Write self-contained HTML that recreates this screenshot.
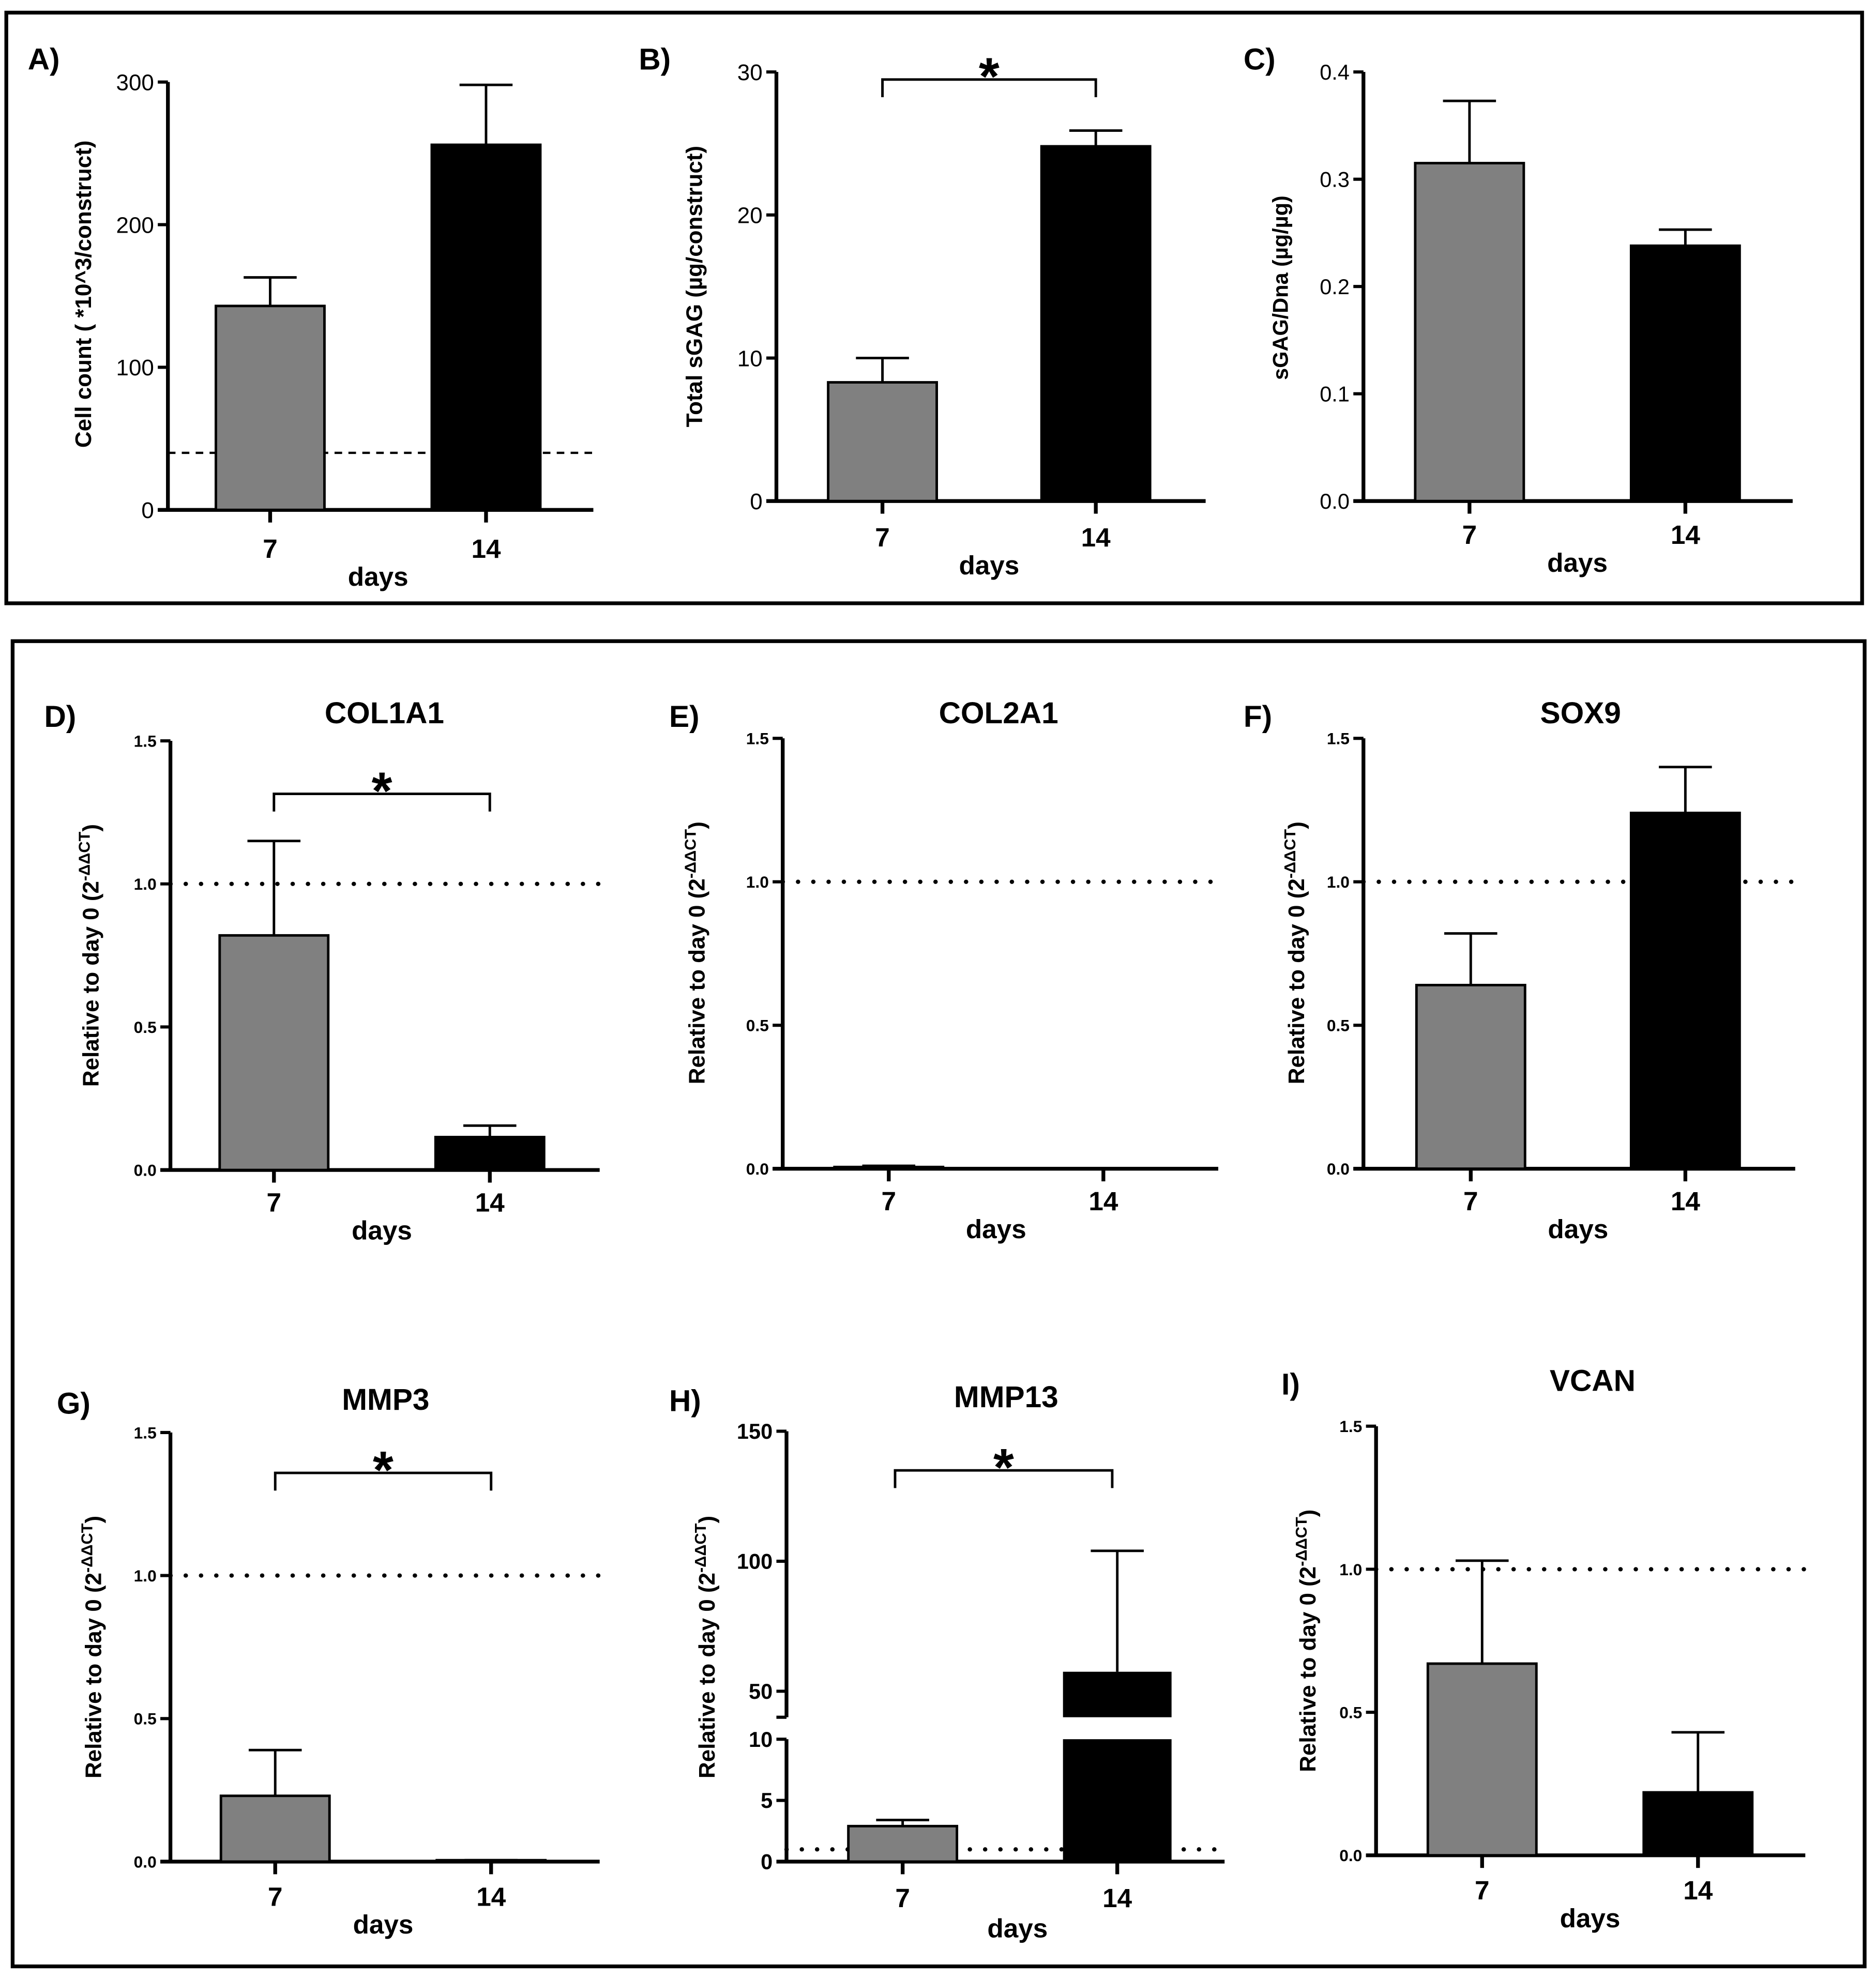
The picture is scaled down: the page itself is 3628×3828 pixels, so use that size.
<!DOCTYPE html>
<html><head><meta charset="utf-8"><style>html,body{margin:0;padding:0;background:#fff}svg{display:block}text{font-family:"Liberation Sans",Arial,sans-serif}</style></head>
<body>
<svg id="fig" xmlns="http://www.w3.org/2000/svg" width="3628" height="3828" viewBox="0 0 1486 1568" preserveAspectRatio="none">
<rect x="5" y="10" width="1470" height="468" fill="none" stroke="#000" stroke-width="3"/>
<rect x="10" y="508" width="1467" height="1050" fill="none" stroke="#000" stroke-width="3"/>
</svg>
<script>
const categories = ['7','14'];
const colors = ['#808080','#000000'];
const aMeans=[143,256], aErr=[20,42], aTicks=[0,100,200,300];
const bMeans=[8.3,24.8], bErr=[1.7,1.1], bTicks=[0,10,20,30];
const cMeans=[0.315,0.238], cErr=[0.058,0.015], cTicks=[0.0,0.1,0.2,0.3,0.4];
const dMeans=[0.82,0.115], dErr=[0.33,0.04], geneTicks=[0.0,0.5,1.0,1.5];
const eMeans=[0.006,0.002], eErr=[0.004,0.0];
const fMeans=[0.64,1.24], fErr=[0.18,0.16];
const gMeans=[0.23,0.005], gErr=[0.16,0.0];
const hMeans=[2.9,57.5], hErr=[0.5,46.5], hTicksLow=[0,5,10], hTicksHigh=[50,100,150];
const iMeans=[0.67,0.22], iErr=[0.36,0.21];

const svg=document.getElementById('fig');
const NS='http://www.w3.org/2000/svg';
function mk(tag,attrs,name,parent){const e=document.createElementNS(NS,tag);for(const k in attrs)e.setAttribute(k,attrs[k]);


(parent||svg).appendChild(e);return e;}
function txt(x,y,s,size,name,opts){opts=opts||{};const t=mk('text',{x:x,y:y,'font-size':size,'font-weight':opts.bold===false?'normal':'bold','text-anchor':opts.anchor||'middle',fill:'#000'},name);if(opts.rot)t.setAttribute('transform','rotate(-90 '+x+' '+y+')');t.textContent=s;return t;}
function ylab(x,y,s,size,sup,name){const t=mk('text',{x:x,y:y,'font-size':size,'font-weight':'bold','text-anchor':'middle',transform:'rotate(-90 '+x+' '+y+')'},name);
if(sup){t.appendChild(document.createTextNode('Relative to day 0 (2'));const ts=document.createElementNS(NS,'tspan');ts.setAttribute('baseline-shift','super');ts.setAttribute('font-size',size*0.7);ts.textContent='-ΔΔCT';t.appendChild(ts);t.appendChild(document.createTextNode(')'));}else t.textContent=s;}

function panel(p){
 const g=mk('g',{},'panel-'+p.id);
 const y=p.scale;
 mk('line',{x1:p.ax,y1:y(p.ticks[p.ticks.length-1]),x2:p.ax,y2:p.y0,stroke:'#000','stroke-width':3},'y-axis-'+p.id,g);
 mk('line',{x1:p.ax-8,y1:p.y0,x2:p.xend,y2:p.y0,stroke:'#000','stroke-width':3},'x-axis-'+p.id,g);
 p.ticks.forEach(v=>{const yy=y(v);mk('line',{x1:p.ax-8,y1:yy,x2:p.ax,y2:yy,stroke:'#000','stroke-width':2.5},'y-tick-'+p.id,g);
  txt(p.ax-11,yy+p.tf*0.36,p.fmt(v),p.tf,'y-tick-label-'+p.id,{anchor:'end',bold:p.tb});});
 if(p.ref!==undefined){mk('line',{x1:p.ax,y1:y(p.ref),x2:p.xend,y2:y(p.ref),stroke:'#000','stroke-width':p.dash?1.8:3.4,'stroke-dasharray':p.dash?'6 5':'0.1 12','stroke-linecap':p.dash?'butt':'round'},'reference-line-'+p.id,g);}
 categories.forEach((c,i)=>{const cx=p.cx[i];const w=86;
  const top=y(p.means[i]);
  mk('line',{x1:cx,y1:y(p.means[i]+p.err[i]),x2:cx,y2:top,stroke:'#000','stroke-width':2},'error-bar-'+p.id+'-'+c,g);
  mk('line',{x1:cx-21,y1:y(p.means[i]+p.err[i]),x2:cx+21,y2:y(p.means[i]+p.err[i]),stroke:'#000','stroke-width':2},'error-cap-'+p.id+'-'+c,g);
  mk('rect',{x:cx-w/2,y:top,width:w,height:Math.max(p.y0-top,0.5),fill:colors[i],stroke:'#000','stroke-width':2},'bar-'+p.id+'-day'+c,g);
  mk('line',{x1:cx,y1:p.y0,x2:cx,y2:p.y0+10,stroke:'#000','stroke-width':3},'x-tick-'+p.id,g);
  txt(cx,p.y0+p.lab,c,21,'x-tick-label-'+p.id);
 });
 txt((p.cx[0]+p.cx[1])/2,p.y0+p.lab+22,'days',21,'x-axis-title-'+p.id);
 txt(p.lx,p.ly,p.id.toUpperCase()+')',24,'panel-label-'+p.id,{anchor:'start'});
 if(p.title)txt((p.cx[0]+p.cx[1])/2+2,p.ly-3,p.title,24,'chart-title-'+p.id);
 ylab(p.yx,p.yy,p.ylabel,p.yf,p.sup,'y-axis-title-'+p.id);
 if(p.sig){const by=p.sig;mk('path',{d:'M'+p.cx[0]+' '+(by+14)+' V'+by+' H'+p.cx[1]+' V'+(by+14),fill:'none',stroke:'#000','stroke-width':2},'significance-bracket-'+p.id,g);
  txt((p.cx[0]+p.cx[1])/2,by+12,'*',42,'significance-star-'+p.id);}
}
function lin(d0,d1,r0,r1){return v=>r0+(v-d0)/(d1-d0)*(r1-r0);}
const f0=v=>String(v), f1=v=>v.toFixed(1);

panel({id:'a',means:aMeans,err:aErr,ticks:aTicks,scale:lin(0,300,404,65),ax:133,y0:404,xend:470,cx:[214,385],lab:38,tf:18,tb:false,fmt:f0,ref:40,dash:true,lx:22,ly:55,yx:72,yy:233,ylabel:'Cell count ( *10^3/construct)',yf:18});
panel({id:'b',means:bMeans,err:bErr,ticks:bTicks,scale:lin(0,30,397,57),ax:615,y0:397,xend:955,cx:[699,868],lab:36,tf:18,tb:false,fmt:f0,lx:506,ly:55,yx:556,yy:227,ylabel:'Total sGAG (µg/construct)',yf:18,sig:63});
panel({id:'c',means:cMeans,err:cErr,ticks:cTicks,scale:lin(0,0.4,397,57),ax:1080,y0:397,xend:1420,cx:[1164,1335],lab:34,tf:17,tb:false,fmt:f1,lx:985,ly:55,yx:1020,yy:228,ylabel:'sGAG/Dna (µg/µg)',yf:17});
panel({id:'d',means:dMeans,err:dErr,ticks:geneTicks,scale:lin(0,1.5,927,587),ax:135,y0:927,xend:475,cx:[217,388],lab:33,tf:13,tb:true,fmt:f1,ref:1,lx:35,ly:576,yx:78,yy:757,sup:true,yf:18,title:'COL1A1',sig:629});
panel({id:'e',means:eMeans,err:eErr,ticks:geneTicks,scale:lin(0,1.5,926,585),ax:620,y0:926,xend:965,cx:[704,874],lab:33,tf:13,tb:true,fmt:f1,ref:1,lx:530,ly:576,yx:558,yy:755,sup:true,yf:18,title:'COL2A1'});
panel({id:'f',means:fMeans,err:fErr,ticks:geneTicks,scale:lin(0,1.5,926,585),ax:1080,y0:926,xend:1422,cx:[1165,1335],lab:33,tf:13,tb:true,fmt:f1,ref:1,lx:985,ly:576,yx:1033,yy:755,sup:true,yf:18,title:'SOX9'});
panel({id:'g',means:gMeans,err:gErr,ticks:geneTicks,scale:lin(0,1.5,1475,1135),ax:135,y0:1475,xend:475,cx:[218,389],lab:35,tf:13,tb:true,fmt:f1,ref:1,lx:45,ly:1120,yx:80,yy:1305,sup:true,yf:18,title:'MMP3',sig:1167});
panel({id:'i',means:iMeans,err:iErr,ticks:geneTicks,scale:lin(0,1.5,1470,1130),ax:1090,y0:1470,xend:1430,cx:[1174,1345],lab:35,tf:13,tb:true,fmt:f1,ref:1,lx:1015,ly:1105,yx:1042,yy:1300,sup:true,yf:18,title:'VCAN'});

(function(){
 const lo=lin(0,10,1475,1378), hi=lin(50,150,1340,1134);
 const BREAK_LO=10, BREAK_HI=40;
 const yH=v=>v<=BREAK_LO?lo(v):(v<BREAK_HI?null:hi(v));
 const g=mk('g',{},'panel-h');
 const ax=623,y0=1475,xend=970,cx=[715,885];
 mk('line',{x1:ax,y1:hi(150),x2:ax,y2:hi(BREAK_HI),stroke:'#000','stroke-width':3},'y-axis-upper-h',g);
 mk('line',{x1:ax,y1:lo(BREAK_LO),x2:ax,y2:y0,stroke:'#000','stroke-width':3},'y-axis-lower-h',g);
 mk('line',{x1:ax-8,y1:hi(BREAK_HI),x2:ax,y2:hi(BREAK_HI),stroke:'#000','stroke-width':2.5},'axis-break-upper-h',g);
 mk('line',{x1:ax-8,y1:y0,x2:xend,y2:y0,stroke:'#000','stroke-width':3},'x-axis-h',g);
 hTicksLow.concat(hTicksHigh).forEach(v=>{const yy=yH(v);mk('line',{x1:ax-8,y1:yy,x2:ax,y2:yy,stroke:'#000','stroke-width':2.5},'y-tick-h',g);txt(ax-11,yy+6,String(v),17,'y-tick-label-h',{anchor:'end'});});
 mk('line',{x1:ax,y1:lo(1),x2:xend,y2:lo(1),stroke:'#000','stroke-width':3.4,'stroke-dasharray':'0.1 12','stroke-linecap':'round'},'reference-line-h',g);
 categories.forEach((c,i)=>{const x=cx[i],w=86,m=hMeans[i],e=hErr[i];
  const te=yH(m+e), tm=yH(m);
  mk('line',{x1:x,y1:te,x2:x,y2:tm,stroke:'#000','stroke-width':2},'error-bar-h-'+c,g);
  mk('line',{x1:x-21,y1:te,x2:x+21,y2:te,stroke:'#000','stroke-width':2},'error-cap-h-'+c,g);
  if(m<=BREAK_LO){mk('rect',{x:x-w/2,y:tm,width:w,height:y0-tm,fill:colors[i],stroke:'#000','stroke-width':2},'bar-h-day'+c,g);}
  else{mk('rect',{x:x-w/2,y:lo(BREAK_LO),width:w,height:y0-lo(BREAK_LO),fill:colors[i]},'bar-h-day'+c+'-lower',g);
   mk('rect',{x:x-w/2,y:tm,width:w,height:hi(BREAK_HI)-tm,fill:colors[i]},'bar-h-day'+c+'-upper',g);}
  mk('line',{x1:x,y1:y0,x2:x,y2:y0+10,stroke:'#000','stroke-width':3},'x-tick-h',g);
  txt(x,y0+36,c,21,'x-tick-label-h');
 });
 txt(806,1535,'days',21,'x-axis-title-h');
 txt(530,1118,'H)',24,'panel-label-h',{anchor:'start'});
 txt(797,1115,'MMP13',24,'chart-title-h');
 ylab(566,1305,'',18,true,'y-axis-title-h');
 const by=1165;mk('path',{d:'M'+(cx[0]-6)+' '+(by+14)+' V'+by+' H'+(cx[1]-4)+' V'+(by+14),fill:'none',stroke:'#000','stroke-width':2},'significance-bracket-h',g);
 txt(795,by+12,'*',42,'significance-star-h');
})();
</script>
</body></html>
